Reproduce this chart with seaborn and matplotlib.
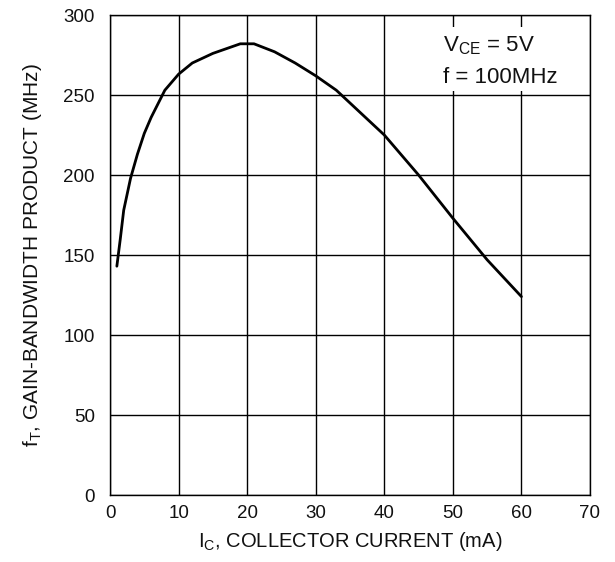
import matplotlib
matplotlib.use("Agg")
import matplotlib.pyplot as plt
import matplotlib.patches as mpatches
import seaborn as sns
import pandas as pd

ic_ma = [1, 1.5, 2, 3, 4, 5, 6, 8, 10, 12, 15, 19, 21, 24, 27, 30, 33, 40, 45, 50, 55, 60]
ft_mhz = [143, 160, 178, 198, 213, 226, 236, 253, 263, 270, 276, 282, 282, 277, 270, 262, 253, 225, 200, 173, 147, 124]
x_ticks = [0, 10, 20, 30, 40, 50, 60, 70]
y_ticks = [0, 50, 100, 150, 200, 250, 300]

sns.set_theme(style="white")
plt.rcParams['font.family'] = ['Liberation Sans', 'DejaVu Sans']

df = pd.DataFrame({"ic": ic_ma, "ft": ft_mhz})

fig = plt.figure(figsize=(6.15, 5.62), dpi=100)
ax = fig.add_axes([110/615, (562-495)/562, 480/615, 480/562])

sns.lineplot(data=df, x="ic", y="ft", ax=ax, color="black", linewidth=2.0,
             estimator=None, sort=False)

ax.set_xlim(0, 70)
ax.set_ylim(0, 300)
ax.set_xticks(x_ticks)
ax.set_yticks(y_ticks)
ax.grid(True, color="black", linewidth=1.0)
ax.set_axisbelow(True)
for s in ax.spines.values():
    s.set_color("black")
    s.set_linewidth(1.0)
ax.tick_params(axis="x", length=0, labelsize=13.5, colors="#111111", pad=7)
ax.tick_params(axis="y", length=0, labelsize=13.5, colors="#111111", pad=11)

ax.set_xlabel("I$_\\mathregular{C}$, COLLECTOR CURRENT (mA)", fontsize=14.5, color="#111111", labelpad=6)
ax.set_ylabel("f$_\\mathregular{T}$, GAIN-BANDWIDTH PRODUCT (MHz)", fontsize=15, color="#111111", labelpad=14)

ax.add_patch(mpatches.Rectangle((0.6875, 0.842), 0.265, 0.133, transform=ax.transAxes,
                                facecolor="white", edgecolor="none", zorder=1.5))
ax.text(0.694, 0.9235, "V$_\\mathregular{CE}$ = 5V", transform=ax.transAxes,
        fontsize=16, color="#111111", va="baseline", ha="left", zorder=3)
ax.text(0.694, 0.8577, "f = 100MHz", transform=ax.transAxes,
        fontsize=16, color="#111111", va="baseline", ha="left", zorder=3)

fig.savefig("out.png", dpi=100)
